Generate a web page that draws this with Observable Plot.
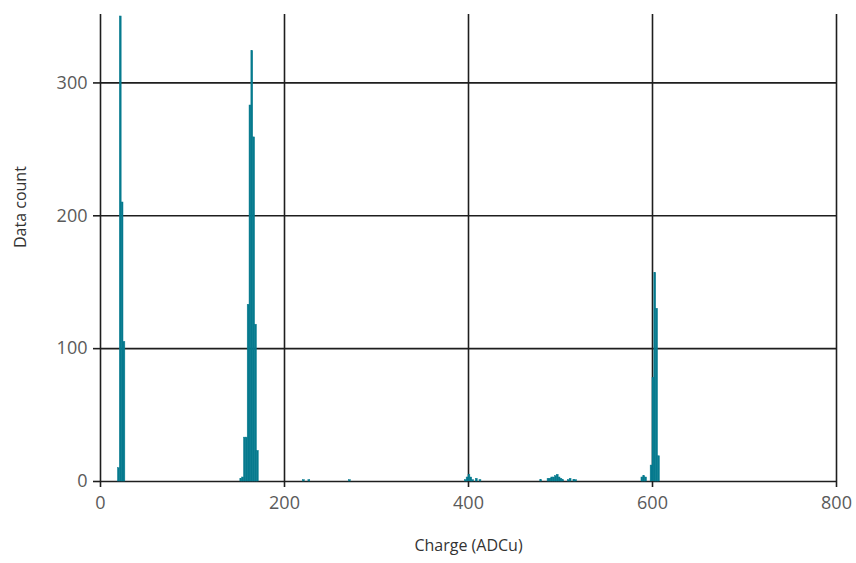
<!DOCTYPE html>
<html>
<head>
<meta charset="utf-8">
<script src="https://cdn.jsdelivr.net/npm/d3@7"></script>
<script src="https://cdn.jsdelivr.net/npm/@observablehq/plot@0.6"></script>
<style>
  html, body { margin: 0; padding: 0; background: #fff; }
  #chart svg { display: block; }
</style>
</head>
<body>
<div id="chart"></div>
<script>
// Histogram bins: lower edge (ADCu) and count; each bin is binWidth ADCu wide
const binWidth = 2;
const binStart = [
  19, 21, 23, 25,
  152, 154, 156, 158, 160, 162, 164, 166, 168, 170,
  220, 226, 270,
  396, 398, 400, 402, 404, 408, 412,
  478, 486, 488, 490, 492, 494, 496, 498, 500, 502, 508, 510, 514, 516,
  588, 590, 592, 598, 600, 602, 604, 606
];
const binCount = [
  10, 350, 210, 105,
  2, 3, 33, 33, 133, 283, 324, 259, 118, 23,
  1, 1, 1,
  1, 3, 5, 3, 1, 2, 1,
  1, 2, 2, 3, 3, 4, 5, 3, 2, 1, 1, 2, 1, 1,
  3, 4, 3, 12, 78, 157, 130, 19
];
const xTicks = [0, 200, 400, 600, 800];
const yTicks = [0, 100, 200, 300];
const xLabel = "Charge (ADCu)";
const yLabel = "Data count";

const bins = binStart.map((s, i) => ({start: s, end: s + binWidth, count: binCount[i]}));

const gridColor = "#1e1e1e";
const barColor = "#067a8e";
const font = "'Open Sans', 'Noto Sans', sans-serif";

const chart = Plot.plot({
  width: 856,
  height: 563,
  marginLeft: 100,
  marginRight: 20,
  marginTop: 14,
  marginBottom: 82,
  style: {fontFamily: font, background: "#fff"},
  x: {domain: [0, 800]},
  y: {domain: [0, 351.5]},
  marks: [
    Plot.gridX(xTicks, {stroke: gridColor, strokeOpacity: 1, strokeWidth: 1.6}),
    Plot.gridY(yTicks, {stroke: gridColor, strokeOpacity: 1, strokeWidth: 1.6}),
    Plot.rectY(bins, {x1: "start", x2: "end", y: "count", fill: barColor, stroke: barColor, strokeWidth: 0.5, inset: 0}),
    Plot.axisX(xTicks, {tickSize: 6, tickPadding: 9, stroke: gridColor, strokeWidth: 1.6, fontSize: 18, fill: "#5a5a5a", label: null}),
    Plot.axisY(yTicks, {tickSize: 7, tickPadding: 6, stroke: gridColor, strokeWidth: 1.6, fontSize: 18, fill: "#5a5a5a", label: null}),
    Plot.text([xLabel], {frameAnchor: "bottom", dy: 69, fontSize: 16, fill: "#333"}),
    Plot.text([yLabel], {frameAnchor: "left", dx: -80, rotate: -90, fontSize: 16, fill: "#333"})
  ]
});
document.getElementById("chart").appendChild(chart);
</script>
</body>
</html>
